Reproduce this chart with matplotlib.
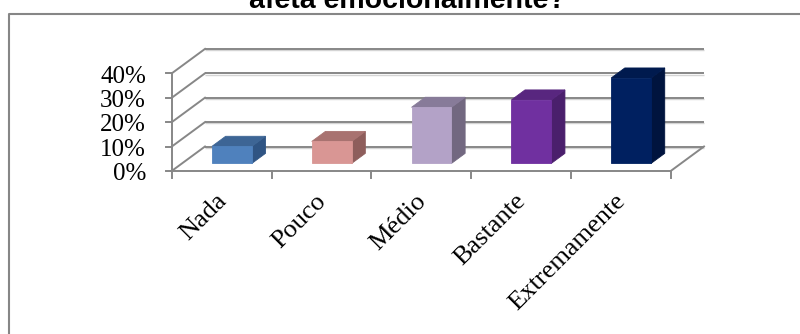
import matplotlib
matplotlib.use("Agg")
import matplotlib.pyplot as plt
from matplotlib.patches import Polygon
from matplotlib.lines import Line2D
from matplotlib.transforms import ScaledTranslation

# ---- data -------------------------------------------------------------
categories = ["Nada", "Pouco", "Médio", "Bastante", "Extremamente"]
values = [7, 9, 23, 26, 35]                 # percent
y_ticks = [0, 10, 20, 30, 40]
y_tick_labels = ["0%", "10%", "20%", "30%", "40%"]

front_colors = ["#4F81BD", "#D99694", "#B3A2C7", "#7030A0", "#002060"]
top_colors = ["#3D6595", "#A87270", "#877B99", "#58267F", "#001A4E"]
side_colors = ["#2F5483", "#8E5E5C", "#726880", "#4A1F6C", "#00143E"]

title = "afeta emocionalmente?"

# ---- figure / projection setup ---------------------------------------
W, H = 800, 334
fig = plt.figure(figsize=(W / 100, H / 100), dpi=100)
ax = fig.add_axes([0, 0, 1, 1])

# pixel geometry of the 2-D projection (category units on x, percent on y)
px_per_cat = 99.8
px_per_pct = 2.44
origin_px = (171.7, H - 171.0)          # front-left floor corner, from bottom
ax.set_xlim(-origin_px[0] / px_per_cat, (W - origin_px[0]) / px_per_cat)
ax.set_ylim(-origin_px[1] / px_per_pct, (H - origin_px[1]) / px_per_pct)
ax.axis("off")

n = len(categories)
depth_dx = 33.3 / px_per_cat           # shift of the full floor depth, x
depth_dy = 24.5 / px_per_pct           # shift of the full floor depth, y
grid_color = "#878787"
grid_lw = 1.4
shadow = ax.transData + ScaledTranslation(0, -1.3 / 100, fig.dpi_scale_trans)


def shift(x, y, d):
    return x + d * depth_dx, y + d * depth_dy


# back wall gridlines and left wall diagonals
for v in y_ticks:
    bx0, by0 = shift(0, v, 1)
    bx1, by1 = shift(n, v, 1)
    ax.plot([bx0, bx1], [by0, by1], color="#D4D4D4", lw=1.0,
            solid_capstyle="butt", zorder=1, transform=shadow)
    ax.plot([bx0, bx1], [by0, by1], color=grid_color, lw=grid_lw,
            solid_capstyle="butt", zorder=2)
    ax.plot([0, bx0], [v, by0], color=grid_color, lw=grid_lw, zorder=2)
    # y tick
    ax.plot([-6 / px_per_cat, 0], [v, v], color=grid_color, lw=grid_lw, zorder=2)

# floor front and right edges
fx, fy = shift(n, 0, 1)
ax.plot([0, n, fx], [0, 0, fy], color=grid_color, lw=grid_lw, zorder=2)
# vertical value axis
ax.plot([0, 0], [0, y_ticks[-1]], color=grid_color, lw=grid_lw, zorder=2)
# category ticks
for i in range(n + 1):
    ax.plot([i, i], [0, -7 / px_per_pct], color=grid_color, lw=grid_lw, zorder=2)

# y tick labels
for v, lab in zip(y_ticks, y_tick_labels):
    ax.text(-25.7 / px_per_cat, v - 1.3, lab, ha="right", va="center",
            fontsize=18, family="Liberation Serif", color="black")

# ---- bars ---------------------------------------------------------------
bar_w = 0.40
f0, f1 = 0.31, 0.72                    # front / back depth of the bars
for i, (v, cf, ct, cs) in enumerate(zip(values, front_colors, top_colors, side_colors)):
    xl, xr = i + 0.5 - bar_w / 2, i + 0.5 + bar_w / 2
    a = shift(xl, 0, f0)
    b = shift(xr, 0, f0)
    c = shift(xr, v, f0)
    d = shift(xl, v, f0)
    b2 = shift(xr, 0, f1)
    c2 = shift(xr, v, f1)
    d2 = shift(xl, v, f1)
    ax.add_patch(Polygon([b, b2, c2, c], closed=True, facecolor=cs,
                         edgecolor=cs, lw=0.6, zorder=3))
    ax.add_patch(Polygon([d, c, c2, d2], closed=True, facecolor=ct,
                         edgecolor=ct, lw=0.6, zorder=3))
    ax.add_patch(Polygon([a, b, c, d], closed=True, facecolor=cf,
                         edgecolor=cf, lw=0.6, zorder=4))

# category labels
for i, lab in enumerate(categories):
    ax.text(i + 0.5 + 9 / px_per_cat, -19 / px_per_pct, lab, rotation=45,
            ha="right", va="top", fontsize=19, family="Liberation Serif",
            color="black")

# ---- chart frame and title ------------------------------------------------
frame_x = 8.5 / W
frame_y = 1 - 14 / H
fig.add_artist(Line2D([frame_x, frame_x, 1.01], [-0.01, frame_y, frame_y],
                      transform=fig.transFigure, color="#868686", lw=1.5))
fig.text(407 / W, 1 - 8.3 / H, title, ha="center", va="baseline",
         fontsize=20.5, fontweight="bold", family="Liberation Sans")

fig.savefig("out.png", dpi=100)
